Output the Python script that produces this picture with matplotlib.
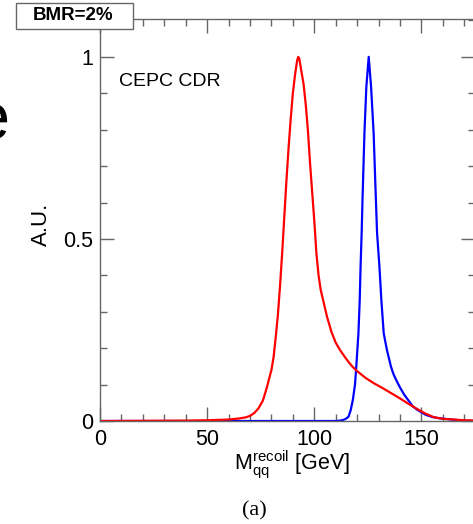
import matplotlib
matplotlib.use('Agg')
import matplotlib.pyplot as plt
from matplotlib.patches import Rectangle
from matplotlib.ticker import MultipleLocator, FixedLocator

W, H = 473, 524

# recoil mass of the di-jet system, normalised to peak
red_mass = [0, 20, 40, 50, 55, 60, 65, 68, 70, 72, 74, 76, 77, 78, 79, 80, 81,
            82, 83, 84, 85, 86, 87, 88, 89, 90, 91, 92, 92.5, 93, 94, 95, 96,
            97, 98, 99, 100, 101, 102, 103, 104, 106, 108, 110, 112, 114, 116,
            118, 120, 124, 128, 132, 136, 140, 144, 148, 152, 156, 160, 165,
            170, 175]
red_au = [0.0, 0.0005, 0.001, 0.002, 0.003, 0.004, 0.007, 0.010, 0.014, 0.022,
          0.035, 0.056, 0.075, 0.095, 0.118, 0.14, 0.175, 0.23, 0.29, 0.37,
          0.46, 0.56, 0.66, 0.75, 0.83, 0.90, 0.95, 0.99, 1.0, 0.995, 0.96,
          0.925, 0.87, 0.80, 0.71, 0.63, 0.55, 0.46, 0.40, 0.36, 0.335, 0.285,
          0.245, 0.215, 0.195, 0.178, 0.162, 0.148, 0.137, 0.118, 0.103, 0.090,
          0.076, 0.062, 0.047, 0.033, 0.020, 0.010, 0.006, 0.004, 0.002, 0.001]

blue_mass = [0, 100, 110, 112, 113.6, 115, 116, 117, 118, 119, 119.6, 120.6,
             121.2, 121.6, 122.1, 122.5, 123.4, 124.3, 125.4, 126.5, 127.7,
             128.5, 129.3, 130.4, 131.3, 132.4, 133.9, 135.8, 137, 138.6,
             140.2, 142, 144, 146, 148, 150, 152, 155, 159, 164, 170, 175]
blue_au = [0.0, 0.0, 0.0, 0.001, 0.003, 0.007, 0.012, 0.030, 0.058, 0.10,
           0.149, 0.241, 0.332, 0.424, 0.516, 0.607, 0.79, 0.918, 1.0, 0.918,
           0.79, 0.65, 0.516, 0.424, 0.332, 0.241, 0.195, 0.149, 0.128, 0.108,
           0.09, 0.072, 0.056, 0.040, 0.031, 0.024, 0.017, 0.011, 0.007, 0.004,
           0.001, 0.0005]

x_major = [0, 50, 100, 150]
y_major = [0, 0.5, 1]
y_labels = ['0', '0.5', '1']


def fx(px):
    return px / W


def fy(py):
    return 1 - py / H


plt.rcParams['font.family'] = ['Liberation Sans', 'DejaVu Sans']
plt.rcParams['mathtext.fontset'] = 'custom'
plt.rcParams['mathtext.rm'] = 'Liberation Sans'

fig = plt.figure(figsize=(W / 100, H / 100), dpi=100)
ax = fig.add_axes([fx(100), fy(421), fx(475) - fx(100), fy(19) - fy(421)])

ax.plot(blue_mass, blue_au, color='#0000ff', lw=1.6)
ax.plot(red_mass, red_au, color='#ff0000', lw=1.6)

ax.set_xlim(0, 175)
ax.set_ylim(0, 1.104)

frame = '#666666'
for s in ax.spines.values():
    s.set_color(frame)
    s.set_linewidth(1.0)

ax.xaxis.set_major_locator(FixedLocator(x_major))
ax.xaxis.set_minor_locator(MultipleLocator(10))
ax.yaxis.set_major_locator(FixedLocator(y_major))
ax.yaxis.set_minor_locator(MultipleLocator(0.1))
ax.set_yticklabels(y_labels)
ax.tick_params(which='both', direction='in', top=True, right=True,
               color=frame, width=1.0, labelsize=15.5)
ax.tick_params(which='major', length=10)
ax.tick_params(which='minor', length=5)
ax.tick_params(axis='x', pad=6)
ax.tick_params(axis='y', pad=5)

fig.text(fx(119), fy(81), 'CEPC CDR', fontsize=14, va='center', ha='left')

fig.text(fx(41), fy(224), 'A.U.', fontsize=16, rotation=90,
         ha='center', va='center')
fig.text(fx(292), fy(470), r'$\mathrm{M}_{\mathrm{qq}}^{\mathrm{recoil}}$ [GeV]',
         fontsize=15.5, ha='center', va='baseline')
fig.text(fx(254), fy(511), '(a)', fontsize=16, family='Liberation Serif',
         ha='center', va='center')

# partial letter from the neighbouring panel
fig.text(fx(9), fy(139), 'e', fontsize=48, ha='right', va='baseline')

box = Rectangle((fx(15.7), fy(29.3)), fx(132.7) - fx(15.7), fy(2.7) - fy(29.3),
                transform=fig.transFigure, facecolor='white', edgecolor=frame,
                lw=1.0, zorder=5)
fig.add_artist(box)
fig.text(fx(73), fy(16), 'BMR=2%', fontsize=13.5, weight='bold',
         ha='center', va='center', zorder=6)

fig.savefig('out.png', dpi=100)
